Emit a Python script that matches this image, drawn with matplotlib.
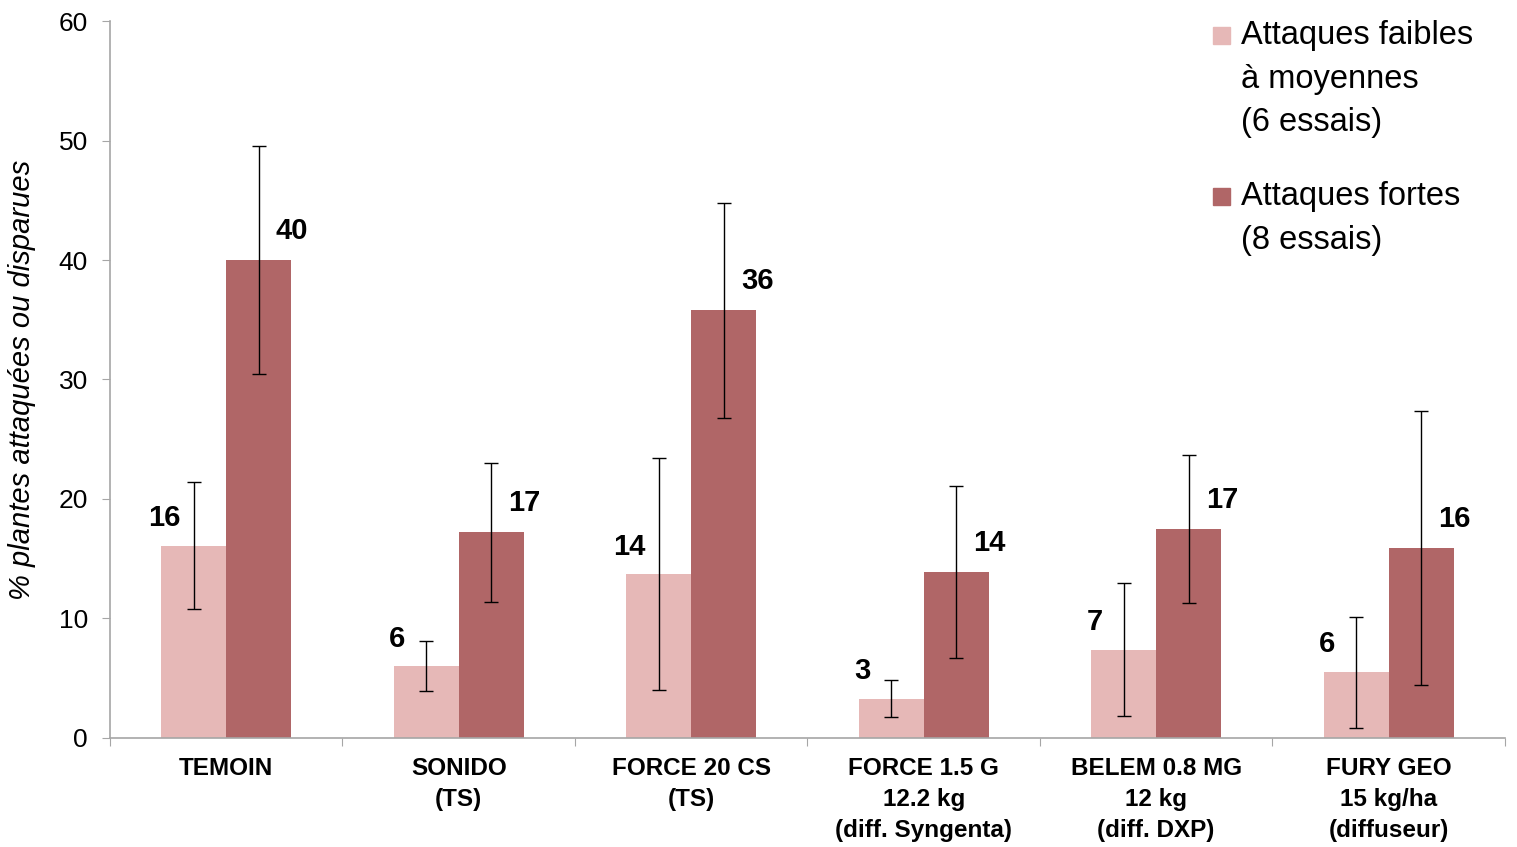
import numpy as np
import matplotlib.pyplot as plt
from matplotlib.patches import Rectangle

plt.rcParams["font.family"] = ["Liberation Sans", "DejaVu Sans"]

# ---------- data ----------
categories = ["TEMOIN", "SONIDO\n(TS)", "FORCE 20 CS\n(TS)",
              "FORCE 1.5 G\n12.2 kg\n(diff. Syngenta)",
              "BELEM 0.8 MG\n12 kg\n(diff. DXP)",
              "FURY GEO\n15 kg/ha\n(diffuseur)"]
faibles = [16.1, 6.0, 13.7, 3.3, 7.4, 5.5]
faibles_err = [5.3, 2.1, 9.7, 1.55, 5.6, 4.65]
fortes = [40.0, 17.2, 35.8, 13.9, 17.5, 15.9]
fortes_err = [9.5, 5.8, 9.0, 7.2, 6.2, 11.45]
labels_faibles = ["16", "6", "14", "3", "7", "6"]
labels_fortes = ["40", "17", "36", "14", "17", "16"]
legend_labels = ["Attaques faibles\nà moyennes\n(6 essais)", "Attaques fortes\n(8 essais)"]

LIGHT = "#e6b8b7"
DARK = "#b06667"
GREY = "#a6a6a6"

fig = plt.figure(figsize=(15.17, 8.47), dpi=100)
ax = fig.add_axes([0.0725, 0.1287, 0.9195, 0.8465])

x = np.arange(len(categories))
w = 0.28
ax.bar(x - w / 2, faibles, w, color=LIGHT, zorder=2)
ax.bar(x + w / 2, fortes, w, color=DARK, zorder=2)
ax.errorbar(x - w / 2, faibles, yerr=faibles_err, fmt="none", ecolor="black",
            elinewidth=1, capsize=5, capthick=1, zorder=3)
ax.errorbar(x + w / 2, fortes, yerr=fortes_err, fmt="none", ecolor="black",
            elinewidth=1, capsize=5, capthick=1, zorder=3)

# value labels
for xi, v, t in zip(x - w / 2, faibles, labels_faibles):
    ax.annotate(t, (xi, v), xytext=(-21, 20), textcoords="offset points",
                ha="center", va="center", fontsize=21, fontweight="bold")
for xi, v, t in zip(x + w / 2, fortes, labels_fortes):
    ax.annotate(t, (xi, v), xytext=(24, 21), textcoords="offset points",
                ha="center", va="center", fontsize=21, fontweight="bold")

# ---------- axes ----------
ax.set_xlim(-0.5, len(categories) - 0.5)
ax.set_ylim(0, 60)
ax.set_yticks(np.arange(0, 61, 10))
ax.set_xticks(np.arange(len(categories) + 1) - 0.5)
ax.set_xticklabels([])
ax.set_xticks(x, minor=True)
ax.set_xticklabels(categories, minor=True, fontsize=17.5, fontweight="bold",
                   linespacing=1.42)
ax.tick_params(axis="x", which="minor", length=0, pad=14)
ax.tick_params(axis="x", which="major", length=6, color=GREY, direction="out")
ax.tick_params(axis="y", length=6, color=GREY, labelsize=19, pad=10)

for s in ["top", "right"]:
    ax.spines[s].set_visible(False)
for s in ["left", "bottom"]:
    ax.spines[s].set_color(GREY)
    ax.spines[s].set_linewidth(1.2)

ax.set_ylabel("% plantes attaquées ou disparues", fontsize=21, style="italic",
              labelpad=16)

# ---------- legend ----------
leg_y = [0.958, 0.768]
for (c, lab, y) in zip([LIGHT, DARK], legend_labels, leg_y):
    fig.patches.append(Rectangle((1213 / 1517, y - 0.01), 17 / 1517, 17 / 847,
                                 transform=fig.transFigure, color=c))
    fig.text(1241 / 1517, y + 0.018, lab, fontsize=23.5, va="top", ha="left",
             linespacing=1.52)

fig.savefig("out.png", dpi=100)
